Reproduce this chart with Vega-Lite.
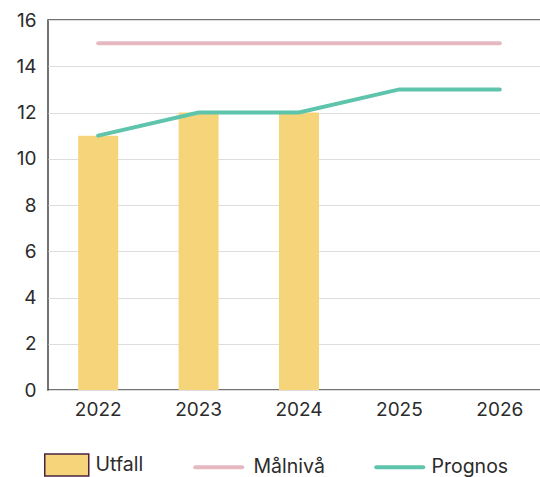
{
  "$schema": "https://vega.github.io/schema/vega-lite/v6.json",
  "autosize": "none",
  "padding": {"left": 48, "top": 20, "right": 0, "bottom": 87},
  "width": 502,
  "height": 370,
  "config": {
    "font": "Inter",
    "view": {"stroke": "#444444", "strokeWidth": 1.5},
    "axis": {"labelFont": "Inter", "labelFontSize": 19, "labelColor": "#2b2b2b", "domain": false, "ticks": false, "title": null},
    "legend": {"labelFont": "Inter", "labelFontSize": 19.5, "labelColor": "#2b2b2b"}
  },
  "data": {
    "values": [
      {"year": "2022", "type": "Utfall", "value": 11},
      {"year": "2023", "type": "Utfall", "value": 12},
      {"year": "2024", "type": "Utfall", "value": 12},
      {"year": "2022", "type": "Målnivå", "value": 15},
      {"year": "2023", "type": "Målnivå", "value": 15},
      {"year": "2024", "type": "Målnivå", "value": 15},
      {"year": "2025", "type": "Målnivå", "value": 15},
      {"year": "2026", "type": "Målnivå", "value": 15},
      {"year": "2022", "type": "Prognos", "value": 11},
      {"year": "2023", "type": "Prognos", "value": 12},
      {"year": "2024", "type": "Prognos", "value": 12},
      {"year": "2025", "type": "Prognos", "value": 13},
      {"year": "2026", "type": "Prognos", "value": 13}
    ]
  },
  "encoding": {
    "x": {
      "field": "year", "type": "ordinal",
      "scale": {"domain": ["2022", "2023", "2024", "2025", "2026"], "paddingInner": 0.6, "paddingOuter": 0.3},
      "axis": {"labelAngle": 0, "labelPadding": 10, "grid": false}
    },
    "y": {
      "field": "value", "type": "quantitative",
      "scale": {"domain": [0, 16], "nice": false},
      "axis": {"values": [0, 2, 4, 6, 8, 10, 12, 14, 16], "labelPadding": 12, "gridColor": "#dddddd", "gridWidth": 1}
    }
  },
  "layer": [
    {
      "transform": [{"filter": "datum.type === 'Utfall'"}],
      "mark": {"type": "bar", "size": 40, "opacity": 1, "strokeWidth": 0},
      "encoding": {
        "fill": {
          "field": "type", "type": "nominal",
          "scale": {"domain": ["Utfall", "Målnivå", "Prognos"], "range": ["#F6D57A", "transparent", "transparent"]},
          "legend": {
            "title": null,
            "orient": "none",
            "legendX": 9,
            "legendY": 435,
            "direction": "horizontal",
            "columns": 3,
            "columnPadding": 43,
            "labelOffset": 19,
            "symbolSize": 2209,
            "encode": {
              "symbols": {
                "update": {
                  "shape": {"signal": "datum.value === 'Utfall' ? 'M-1,-0.5H1V0.5H-1Z' : 'stroke'"},
                  "size": {"signal": "datum.value === 'Utfall' ? 1936 : 2209"},
                  "strokeWidth": {"signal": "datum.value === 'Utfall' ? 1.5 : 4"},
                  "strokeCap": {"value": "round"},
                  "opacity": {"value": 1}
                }
              },
              "labels": {
                "update": {
                  "dx": {"signal": "datum.value === 'Målnivå' ? 6 : (datum.value === 'Prognos' ? 3 : 0)"}
                }
              }
            }
          }
        }
      }
    },
    {
      "transform": [{"filter": "datum.type !== 'Utfall'"}],
      "mark": {"type": "line", "strokeWidth": 4, "strokeCap": "round"},
      "encoding": {
        "stroke": {
          "field": "type", "type": "nominal",
          "scale": {"domain": ["Utfall", "Målnivå", "Prognos"], "range": ["#4a2340", "#E6B8C1", "#5EC4AB"]},
          "legend": {
            "title": null,
            "orient": "none",
            "legendX": 9,
            "legendY": 435,
            "direction": "horizontal",
            "columns": 3,
            "columnPadding": 43,
            "labelOffset": 19,
            "symbolSize": 2209,
            "encode": {
              "symbols": {
                "update": {
                  "shape": {"signal": "datum.value === 'Utfall' ? 'M-1,-0.5H1V0.5H-1Z' : 'stroke'"},
                  "size": {"signal": "datum.value === 'Utfall' ? 1936 : 2209"},
                  "strokeWidth": {"signal": "datum.value === 'Utfall' ? 1.5 : 4"},
                  "strokeCap": {"value": "round"},
                  "opacity": {"value": 1}
                }
              },
              "labels": {
                "update": {
                  "dx": {"signal": "datum.value === 'Målnivå' ? 6 : (datum.value === 'Prognos' ? 3 : 0)"}
                }
              }
            }
          }
        }
      }
    }
  ]
}
